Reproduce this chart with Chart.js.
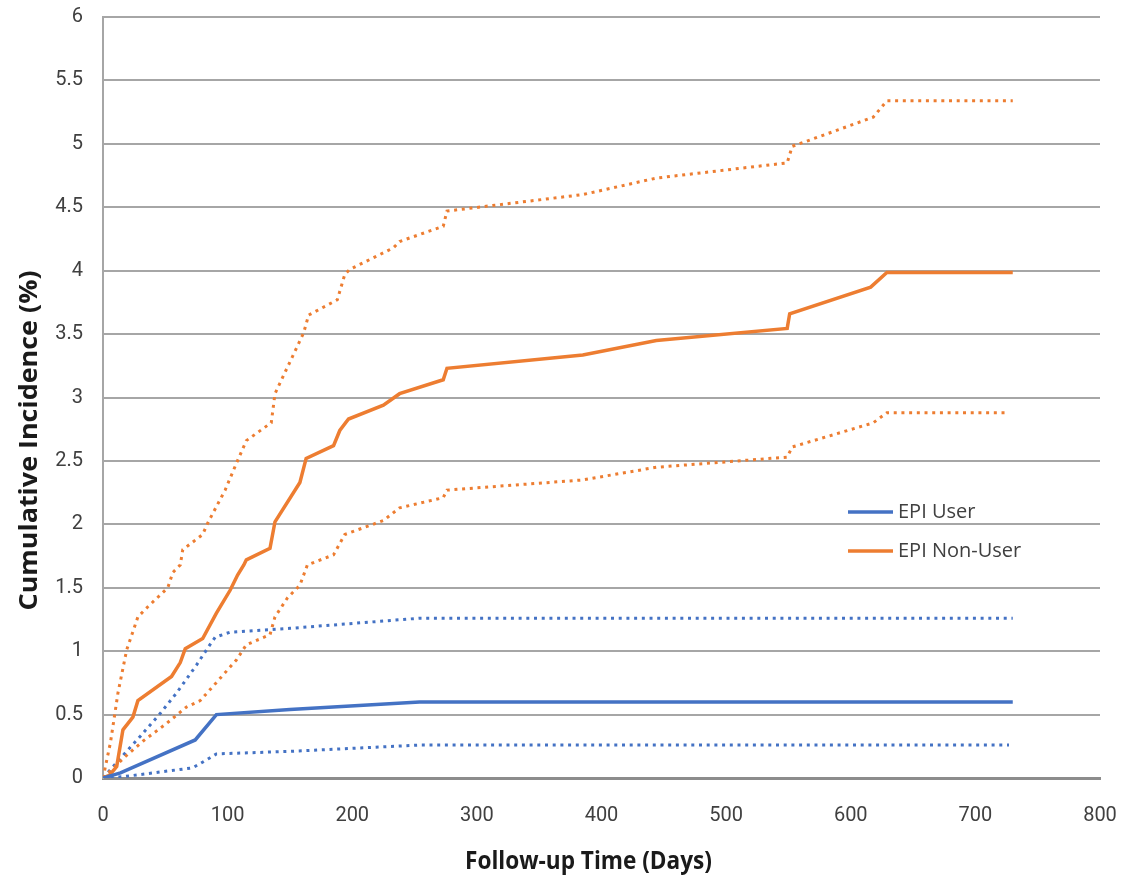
<!DOCTYPE html>
<html>
<head>
<meta charset="utf-8">
<script src="https://cdn.jsdelivr.net/npm/chart.js@4.4.1/dist/chart.umd.min.js"></script>
<style>
  body { margin: 0; background: #fff; }
  #wrap { width: 1122px; height: 881px; }
</style>
</head>
<body>
<div id="wrap"><canvas id="incidenceChart" width="1122" height="881"></canvas></div>
<script>
// [day, cumulative incidence %]
const nonUser = [[0,0],[5,0.02],[11,0.09],[16,0.38],[24,0.48],[28,0.61],[55,0.8],[62,0.91],[66,1.02],[80,1.10],[91,1.30],[102,1.48],[108,1.60],[113,1.68],[115,1.72],[134,1.81],[138,2.02],[158,2.33],[163,2.52],[185,2.62],[190,2.74],[197,2.83],[225,2.94],[238,3.03],[273,3.14],[276,3.23],[385,3.335],[444,3.45],[549,3.545],[551,3.66],[616,3.87],[629,3.985],[730,3.985]];
const nonUserUpper = [[0,0],[6,0.28],[12,0.67],[19,1.01],[28,1.27],[36,1.35],[52,1.50],[56,1.62],[62,1.68],[64,1.80],[80,1.92],[84,2.01],[98,2.27],[107,2.48],[115,2.66],[132,2.78],[135,2.80],[138,3.03],[161,3.51],[165,3.65],[188,3.77],[194,3.97],[198,4.01],[233,4.18],[238,4.23],[273,4.35],[276,4.47],[385,4.60],[444,4.73],[549,4.85],[553,4.98],[618,5.21],[629,5.34],[730,5.34]];
const nonUserLower = [[0,0],[18,0.17],[32,0.29],[51,0.43],[67,0.56],[78,0.61],[88,0.72],[107,0.93],[115,1.05],[134,1.13],[138,1.27],[148,1.42],[158,1.52],[164,1.68],[185,1.76],[194,1.92],[225,2.03],[238,2.13],[273,2.21],[276,2.27],[385,2.35],[444,2.45],[549,2.53],[553,2.61],[618,2.80],[629,2.88],[727,2.88]];
const user = [[0,0],[14,0.04],[74,0.30],[91,0.50],[150,0.54],[254,0.60],[730,0.60]];
const userUpper = [[0,0],[18,0.20],[30,0.33],[46,0.51],[59,0.67],[75,0.89],[83,1.01],[90,1.11],[102,1.15],[150,1.18],[254,1.26],[730,1.26]];
const userLower = [[0,0],[16,0.01],[72,0.08],[86,0.16],[91,0.19],[150,0.21],[254,0.26],[727,0.26]];

const seriesNames = ['EPI User', 'EPI Non-User'];
const xTitle = 'Follow-up Time (Days)';
const yTitle = 'Cumulative Incidence (%)';

const blue = '#4472C4';
const orange = '#ED7D31';
const tickFont = "Roboto, 'Open Sans', sans-serif";
const titleFont = "bold 25px 'Open Sans', sans-serif";

const toXY = arr => arr.map(p => ({ x: p[0], y: p[1] }));

function solid(label, data, color) {
    return { label: label, data: toXY(data), borderColor: color, borderWidth: 3.5,
             pointRadius: 0, fill: false, tension: 0 };
}
function dotted(data, color) {
    return { label: '', data: toXY(data), borderColor: color, borderWidth: 3,
             borderDash: [3, 4.7], pointRadius: 0, fill: false, tension: 0 };
}

// squeeze a bold title into the width it takes in the original
function fitText(ctx, text, width) {
    const w = ctx.measureText(text).width;
    ctx.scale(width / w, 1);
    ctx.fillText(text, 0, 0);
}

// axis titles + legend drawn by hand
const extras = {
    id: 'extras',
    afterDraw(chart) {
        const ctx = chart.ctx;
        const a = chart.chartArea;

        ctx.save();
        ctx.font = titleFont;
        ctx.fillStyle = '#1a1a1a';
        ctx.textAlign = 'center';
        ctx.textBaseline = 'middle';
        ctx.translate(30, (a.top + a.bottom) / 2 + 43);
        ctx.rotate(-Math.PI / 2);
        fitText(ctx, yTitle, 340);
        ctx.restore();

        ctx.save();
        ctx.font = titleFont;
        ctx.fillStyle = '#1a1a1a';
        ctx.textAlign = 'center';
        ctx.textBaseline = 'middle';
        ctx.translate((a.left + a.right) / 2 - 13, a.bottom + 84);
        fitText(ctx, xTitle, 247);
        ctx.restore();

        ctx.save();
        const lx = a.right - 252;
        const rows = [{ name: seriesNames[0], color: blue }, { name: seriesNames[1], color: orange }];
        rows.forEach((r, i) => {
            const y = a.top + 495 + i * 39;
            ctx.strokeStyle = r.color;
            ctx.lineWidth = 3.5;
            ctx.beginPath();
            ctx.moveTo(lx, y);
            ctx.lineTo(lx + 45, y);
            ctx.stroke();
            ctx.fillStyle = '#404040';
            ctx.font = "20px 'Open Sans', sans-serif";
            ctx.textBaseline = 'middle';
            ctx.fillText(r.name, lx + 50, y);
        });
        ctx.restore();
    }
};

const ctx = document.getElementById('incidenceChart').getContext('2d');
new Chart(ctx, {
    type: 'line',
    data: {
        datasets: [
            solid(seriesNames[0], user, blue),
            solid(seriesNames[1], nonUser, orange),
            dotted(nonUserUpper, orange),
            dotted(nonUserLower, orange),
            dotted(userUpper, blue),
            dotted(userLower, blue)
        ]
    },
    options: {
        responsive: false,
        animation: false,
        layout: { padding: { top: 17, right: 22, bottom: 0, left: 0 } },
        plugins: {
            legend: { display: false },
            tooltip: { enabled: false }
        },
        scales: {
            x: {
                type: 'linear',
                min: 0, max: 800,
                afterFit: s => { s.height = 103; s.paddingLeft = 0; s.paddingRight = 0; },
                ticks: { stepSize: 100, padding: 26, color: '#404040', font: { size: 20, family: tickFont } },
                grid: { display: false, drawTicks: false },
                border: { display: true, color: '#8c8c8c', width: 3 }
            },
            y: {
                min: 0, max: 6,
                afterFit: s => { s.width = 103; s.paddingTop = 0; s.paddingBottom = 0; },
                ticks: { stepSize: 0.5, padding: 20, color: '#404040', font: { size: 20, family: tickFont },
                         callback: v => String(v) },
                grid: { color: '#A6A6A6', lineWidth: 2, drawTicks: false },
                border: { color: '#A6A6A6', width: 2 }
            }
        }
    },
    plugins: [extras]
});
</script>
</body>
</html>
